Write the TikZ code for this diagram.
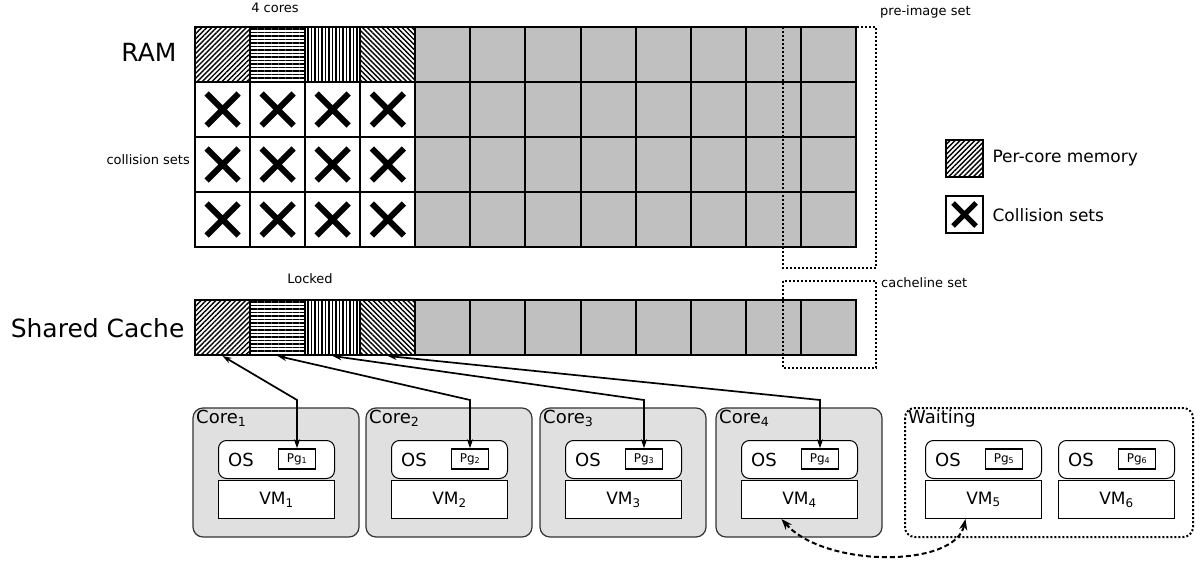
\documentclass[tikz,border=0pt]{standalone}
\usepackage{fontspec}
\setmainfont{DejaVu Sans}
\usetikzlibrary{patterns.meta,arrows.meta}
\definecolor{cellgray}{HTML}{C0C0C0}
\definecolor{coregray}{HTML}{E0E0E0}
\begin{document}
\begin{tikzpicture}[x=1pt,y=-1pt,
 cell/.style={draw=black,line width=2pt,fill=cellgray},
 xmark/.style={line width=6pt},
 corebox/.style={draw=black!80,line width=1.2pt,rounded corners=10pt,fill=coregray},
 osbox/.style={draw=black,line width=1pt,rounded corners=8pt,fill=white,minimum width=116pt,minimum height=38pt,anchor=north west},
 vmbox/.style={draw=black,line width=1pt,fill=white,minimum width=116pt,minimum height=38pt,anchor=north west,font=\fontsize{17}{19}\selectfont},
 pgbox/.style={draw=black,line width=1.5pt,fill=white,minimum width=37pt,minimum height=20pt,inner sep=0pt,font=\fontsize{12}{13}\selectfont},
 lbl/.style={font=\fontsize{13}{15}\selectfont,inner sep=0pt},
 conn/.style={line width=1.7pt,{Stealth[length=9pt,width=6pt]}-{Stealth[length=9pt,width=6pt]}},
 dotbox/.style={draw=black,line width=2pt,dotted}]
\useasboundingbox (0,0) rectangle (1200,561);
\def\cw{55.08}
% RAM grid
\foreach \r in {0,...,3}{
 \foreach \c in {4,...,11}{
  \draw[cell] ({195+\c*\cw},{27+\r*55}) rectangle ({195+(\c+1)*\cw},{27+(\r+1)*55});
 }}
\foreach \c/\a in {0/45,1/0,2/90,3/-45}{
 \draw[line width=2pt,pattern={Lines[angle=\a,distance=3.5pt,line width=1.4pt]}] ({195+\c*\cw},27) rectangle ({195+(\c+1)*\cw},82);
 \draw[line width=2pt,pattern={Lines[angle=\a,distance=3.5pt,line width=1.4pt]}] ({195+\c*\cw},300) rectangle ({195+(\c+1)*\cw},355);
 \foreach \r in {1,2,3}{
  \draw[line width=2pt,fill=white] ({195+\c*\cw},{27+\r*55}) rectangle ({195+(\c+1)*\cw},{27+(\r+1)*55});
  \draw[xmark] ({195+(\c+0.5)*\cw-16},{27+(\r+0.5)*55-16}) -- ++(32,32) ({195+(\c+0.5)*\cw+16},{27+(\r+0.5)*55-16}) -- ++(-32,32);
 }}
\foreach \c in {4,...,11}{
 \draw[cell] ({195+\c*\cw},300) rectangle ({195+(\c+1)*\cw},355);
}
\foreach \c in {0,...,3}{ \coordinate (c\c) at ({195+(\c+0.5)*\cw},356); }
% labels
\node[anchor=east,font=\fontsize{25}{27}\selectfont] (ram) at (180,52) {RAM};
\node[anchor=east,font=\fontsize{25}{27}\selectfont] (sc) at (188,328) {Shared Cache};
\node[lbl,anchor=east] (cs) at (190,160) {collision sets};
\node[lbl] (fc) at (275,8) {4 cores};
\node[lbl] (lk) at (310,279) {Locked};
\node[lbl,anchor=west] (pis) at (880,12) {pre-image set};
\node[lbl,anchor=west] (cls) at (881,283) {cacheline set};
\draw[dotbox] (783,27) rectangle (876,268);
\draw[dotbox] (783,281) rectangle (876,368);
% legend
\draw[line width=1.5pt,pattern={Lines[angle=45,distance=3.5pt,line width=1.4pt]}] (946,140) rectangle (983,177);
\node[anchor=west,font=\fontsize{17}{19}\selectfont] (l1) at (989,158) {Per-core memory};
\draw[line width=1.5pt,fill=white] (946,196) rectangle (983,233);
\draw[line width=5pt] (953,203) -- (976,226) (976,203) -- (953,226);
\node[anchor=west,font=\fontsize{17}{19}\selectfont] (l2) at (989,215) {Collision sets};
% cores
\foreach \i/\x in {1/193,2/366,3/540,4/716}{
 \draw[corebox] (\x,408) rectangle ++(166,129);
 \node[anchor=north west,inner sep=0pt,font=\fontsize{18}{20}\selectfont] (core\i) at (\x+3,410) {Core\textsubscript{\i}};
 \node[osbox] (os\i) at (\x+25,440) {};
 \node[anchor=west,inner sep=0pt,font=\fontsize{18}{20}\selectfont] at ([xshift=10pt]os\i.west) {OS};
 \node[pgbox] (pg\i) at (\x+104,459) {Pg\textsubscript{\i}};
 \node[vmbox] (vm\i) at (\x+25,480) {VM\textsubscript{\i}};
}
\draw[dotbox,rounded corners=10pt] (905,408) rectangle (1193,537);
\node[anchor=north west,inner sep=0pt,font=\fontsize{18}{20}\selectfont] (wt) at (908,410) {Waiting};
\foreach \i/\x in {5/925,6/1058}{
 \node[osbox] (os\i) at (\x,440) {};
 \node[anchor=west,inner sep=0pt,font=\fontsize{18}{20}\selectfont] at ([xshift=10pt]os\i.west) {OS};
 \node[pgbox] (pg\i) at (\x+79,459) {Pg\textsubscript{\i}};
 \node[vmbox] (vm\i) at (\x,480) {VM\textsubscript{\i}};
}
% arrows
\foreach \i/\c in {1/0,2/1,3/2,4/3}{
 \draw[conn] (c\c) -- (pg\i.north |- 0,400) -- (pg\i.north);
}
\draw[line width=2pt,dash pattern=on 5pt off 3pt,{Stealth[length=11pt,width=8pt]}-{Stealth[length=11pt,width=8pt]}] ([xshift=-18pt]vm4.south) .. controls (825,568) and (955,568) .. ([xshift=-18pt]vm5.south);
\end{tikzpicture}
\end{document}
